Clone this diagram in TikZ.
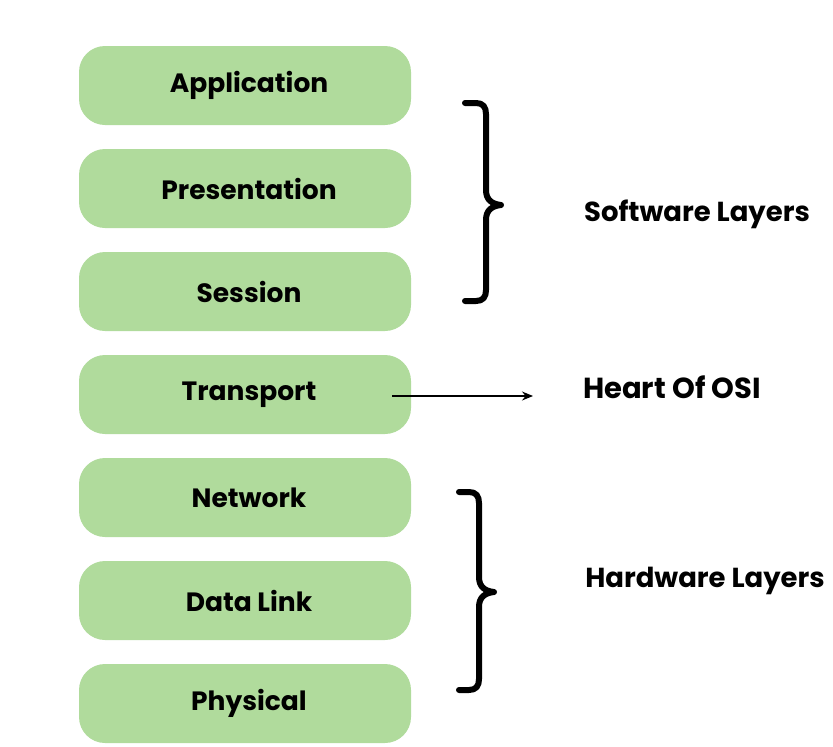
\documentclass[tikz,border=0pt]{standalone}
\usepackage{fontspec}
\setmainfont{Poppins}
\usetikzlibrary{arrows.meta}
\definecolor{boxgreen}{HTML}{B0DB9C}
\tikzset{
  layer/.style={rectangle, rounded corners=26pt, fill=boxgreen, minimum width=332pt, minimum height=79pt, inner sep=0pt, font=\fontsize{26.5}{30}\selectfont\bfseries},
  lbl/.style={font=\fontsize{27.5}{31}\selectfont\bfseries, inner sep=0pt},
  brace/.style={line width=6pt, line cap=round, line join=round}
}
\newcommand{\lyr}[1]{\hspace*{8pt}\raisebox{-2.5pt}{#1}}
\begin{document}
\begin{tikzpicture}[x=1pt,y=-1pt]
\useasboundingbox (0,0) rectangle (833,747);
\node[layer] (app) at (245,85.5) {\lyr{Application}};
\node[layer] (pres) at (245,188.5) {\lyr{Presentation}};
\node[layer] (sess) at (245,291.5) {\lyr{Session}};
\node[layer] (trans) at (245,394.5) {\lyr{Transport}};
\node[layer] (net) at (245,497.5) {\lyr{Network}};
\node[layer] (dl) at (245,600.5) {\lyr{Data Link}};
\node[layer] (phys) at (245,703.5) {\lyr{Physical}};

\node[lbl] (soft) at (697,214) {Software Layers};
\node[lbl, font=\fontsize{29}{33}\selectfont\bfseries] (heart) at (672,387) {Heart Of OSI};
\node[lbl] (hard) at (705,581) {Hardware Layers};

% software brace
\draw[brace] (465,103) -- (476,103) .. controls (483,103) and (486,107) .. (486,114)
  -- (486,190) .. controls (486,200) and (492,204) .. (501,205)
  .. controls (492,206) and (486,210) .. (486,220)
  -- (486,290) .. controls (486,297) and (483,301) .. (476,301) -- (465,301);
% hardware brace
\draw[brace] (459,492) -- (469,492) .. controls (476,492) and (479,496) .. (479,503)
  -- (479,577) .. controls (479,587) and (485,591) .. (494,592)
  .. controls (485,593) and (479,597) .. (479,607)
  -- (479,679) .. controls (479,686) and (476,690) .. (469,690) -- (459,690);

\coordinate (a0) at (392,396);
\coordinate (a1) at (533,396);
\draw[line width=1.3pt, -{Stealth[length=11pt,width=9pt]}] (a0) -- (a1);
\end{tikzpicture}
\end{document}
